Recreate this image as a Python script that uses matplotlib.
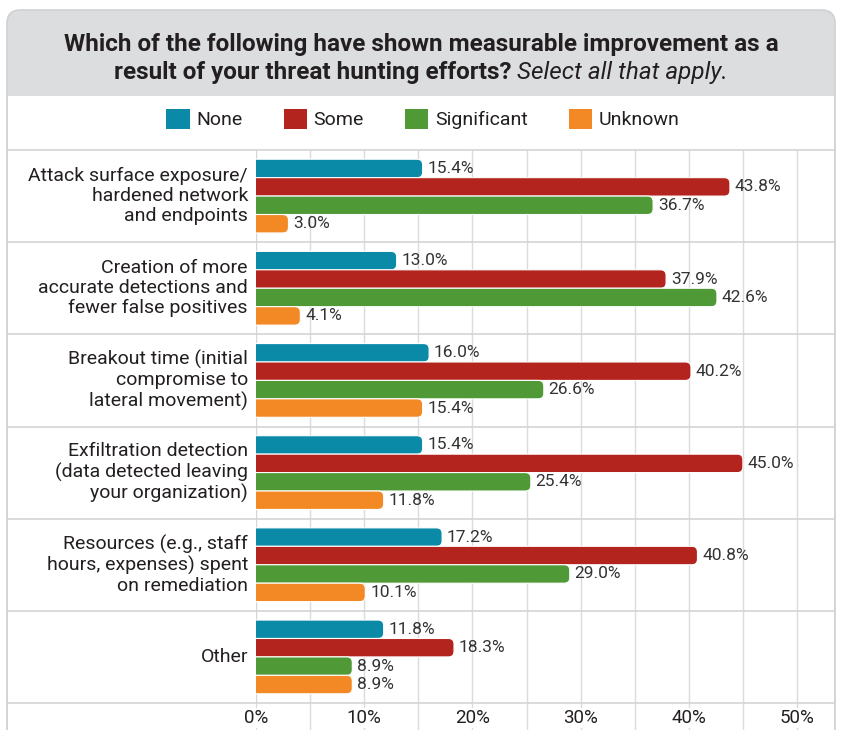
import matplotlib
matplotlib.use('Agg')
import matplotlib.pyplot as plt
from matplotlib.patches import FancyBboxPatch, Rectangle, Patch

W, H = 841, 730

categories = ['Attack surface exposure/\nhardened network\nand endpoints',
              'Creation of more\naccurate detections and\nfewer false positives',
              'Breakout time (initial\ncompromise to\nlateral movement)',
              'Exfiltration detection\n(data detected leaving\nyour organization)',
              'Resources (e.g., staff\nhours, expenses) spent\non remediation',
              'Other']
series_names = ['None', 'Some', 'Significant', 'Unknown']
none_vals = [15.4, 13.0, 16.0, 15.4, 17.2, 11.8]
some_vals = [43.8, 37.9, 40.2, 45.0, 40.8, 18.3]
significant_vals = [36.7, 42.6, 26.6, 25.4, 29.0, 8.9]
unknown_vals = [3.0, 4.1, 15.4, 11.8, 10.1, 8.9]
tick_vals = [0, 10, 20, 30, 40, 50]
tick_labels = ['0%', '10%', '20%', '30%', '40%', '50%']

colors = ['#0b8aa8', '#b3241f', '#4f9a37', '#f28924']
dark = '#231f20'
line_gray = '#d3d4d6'
font = ['Roboto', 'DejaVu Sans']

def fx(x):
    return x / W

def fy(y):
    return 1 - y / H

fig = plt.figure(figsize=(W / 100, H / 100), dpi=100)

## outer panel: rounded gray header, white body
fig.patches.append(FancyBboxPatch((fx(7), fy(790)), fx(828), 780 / H,
                                  boxstyle='round,pad=0,rounding_size=0.016',
                                  mutation_aspect=W / H,
                                  transform=fig.transFigure, facecolor='#dcdddf',
                                  edgecolor='#d0d1d3', linewidth=1.2, zorder=-2))
fig.patches.append(Rectangle((fx(8), 0), fx(826), 1 - 96 / H, transform=fig.transFigure,
                             facecolor='white', edgecolor='none', zorder=-1))

## title
fig.text(fx(421), fy(45), 'Which of the following have shown measurable improvement as a',
         ha='center', va='center', fontsize=17.5, fontweight='bold', family=font, color=dark)
renderer = fig.canvas.get_renderer()
t1 = fig.text(0, fy(72), 'result of your threat hunting efforts? ', ha='left', va='center',
              fontsize=17.5, fontweight='bold', family=font, color=dark)
t2 = fig.text(0, fy(72), 'Select all that apply.', ha='left', va='center',
              fontsize=17.5, fontstyle='italic', family=font, color=dark)
w1 = t1.get_window_extent(renderer).width
w2 = t2.get_window_extent(renderer).width
start = 421 - (w1 + w2) / 2
t1.set_x(fx(start))
t2.set_x(fx(start + w1))

## main axes
left, right, top, bottom = 256, 835, 150, 730
ax = fig.add_axes([fx(left), fy(bottom), fx(right - left), (bottom - top) / H])
ax.patch.set_alpha(0)
row_px = (703 - top) / len(categories)
xmax = (right - left) / ((797 - left) / 50)
ax.set_xlim(0, xmax)
ax.set_ylim(len(categories) + (bottom - 703) / row_px, 0)
for s in ax.spines.values():
    s.set_visible(False)
ax.set_xticks([])
ax.set_yticks([])

# grid
for g in range(0, 55, 5):
    ax.axvline(g, color='#dadbdd', lw=1, zorder=1)
ax.axvline(0, color=line_gray, lw=1.2, ymin=(bottom - 703) / (bottom - top), zorder=1)
xmin_frac = -(left - 7) / (right - left)
for r in range(len(categories) + 1):
    ax.axhline(r, xmin=xmin_frac, xmax=1, color=line_gray, lw=1.2, clip_on=False, zorder=1)

# bars, rounded on the right end
px_per_x = (797 - left) / 50
aspect = px_per_x / row_px
rad = 5.5 / px_per_x
all_vals = [none_vals, some_vals, significant_vals, unknown_vals]
bh = 0.2
for j, vals in enumerate(all_vals):
    for i, v in enumerate(vals):
        yc = i + 0.2 * (j + 1)
        bar = FancyBboxPatch((-2, yc - bh / 2), v + 2, bh,
                             boxstyle='round,pad=0,rounding_size=%f' % rad,
                             mutation_aspect=aspect, facecolor=colors[j],
                             edgecolor='white', linewidth=0.8, zorder=3)
        ax.add_patch(bar)
        ax.text(v + 0.45, yc, '%.1f%%' % v, va='center', ha='left', fontsize=12.5,
                family=font, color='#333333', zorder=4)

# category labels
for i, c in enumerate(categories):
    ax.text(-0.75, i + 0.5, c, ha='right', va='center', fontsize=14, family=font,
            color=dark, linespacing=1.15, clip_on=False)

# x tick labels
for v, lab in zip(tick_vals, tick_labels):
    ax.text(v, len(categories) + (718 - 703) / row_px, lab, ha='center', va='center',
            fontsize=13.5, family=font, color=dark, zorder=5,
            bbox=dict(facecolor='white', edgecolor='none', pad=1))

# legend
handles = [Patch(facecolor=c, edgecolor='none') for c in colors]
fig.legend(handles, series_names, loc='center', bbox_to_anchor=(fx(423), fy(119)),
           ncol=4, frameon=False, handlelength=1.2, handleheight=1.2, handletextpad=0.35,
           columnspacing=2.1, prop={'family': font, 'size': 14}, labelcolor=dark)

fig.savefig('out.png', dpi=100)
